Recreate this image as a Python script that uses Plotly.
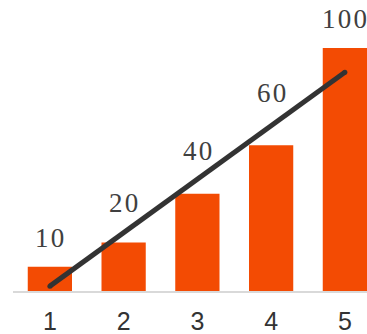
import plotly.graph_objects as go

categories = [1, 2, 3, 4, 5]
values = [10, 20, 40, 60, 100]
labels = ["10", "20", "40", "60", "100"]
trend_x = [1, 5]
trend_y = [2, 90]

label_shift = [12, 22, 26, 35, 12]

fig = go.Figure()
fig.add_trace(go.Bar(x=categories, y=values, marker=dict(color="#F34B03", line=dict(width=0)),
                     width=0.6, hoverinfo="skip"))
fig.add_trace(go.Scatter(x=trend_x, y=trend_y, mode="lines+markers",
                         line=dict(color="#333333", width=5),
                         marker=dict(color="#333333", size=5), hoverinfo="skip"))

for c, v, t, s in zip(categories, values, labels, label_shift):
    fig.add_annotation(x=c, y=v, text="\u200a".join(t), showarrow=False, yanchor="bottom",
                       yshift=s, font=dict(family="Liberation Serif", size=27, color="#404040"))

fig.update_layout(
    width=367, height=334,
    margin=dict(l=13, r=0, t=0, b=43),
    paper_bgcolor="white", plot_bgcolor="white",
    showlegend=False,
    bargap=0.4,
)
fig.update_xaxes(range=[0.5, 5.3], tickvals=categories, ticktext=[str(c) for c in categories],
                 showgrid=False, zeroline=False, showline=True, linecolor="#D9D9D9", linewidth=1.5,
                 ticks="", ticklabelstandoff=7, automargin=False,
                 tickfont=dict(family="Liberation Sans", size=25, color="#333333"))
fig.update_yaxes(range=[0, 119.75], visible=False, automargin=False)

fig.write_html("out.html")
